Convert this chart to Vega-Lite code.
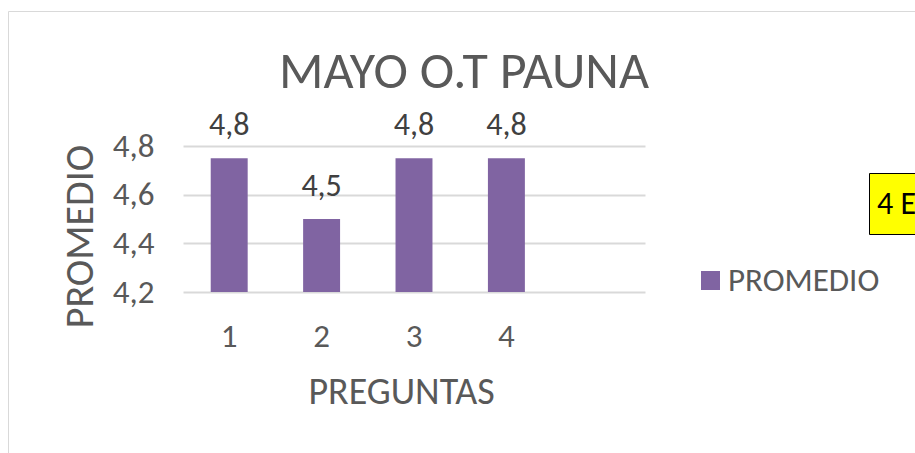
{
  "$schema": "https://vega.github.io/schema/vega-lite/v6.json",
  "width": 462,
  "height": 146,
  "autosize": {"type": "none"},
  "padding": {"left": 183, "top": 146, "right": 270, "bottom": 161},
  "background": "white",
  "title": {
    "text": "MAYO O.T PAUNA",
    "fontSize": 52,
    "font": "Carlito, 'Liberation Sans Narrow', 'DejaVu Sans Condensed', 'Open Sans', sans-serif",
    "fontWeight": "normal",
    "color": "#595959",
    "anchor": "middle",
    "frame": "group",
    "baseline": "alphabetic",
    "dx": 50,
    "offset": -129
  },
  "config": {
    "font": "Carlito, 'Liberation Sans Narrow', 'DejaVu Sans Condensed', 'Open Sans', sans-serif",
    "view": {"stroke": null},
    "locale": {"number": {"decimal": ",", "thousands": ".", "grouping": [3], "currency": ["", " €"]}}
  },
  "layer": [
    {
      "data": {"values": [
        {"PREGUNTA": "1", "PROMEDIO": 4.75},
        {"PREGUNTA": "2", "PROMEDIO": 4.5},
        {"PREGUNTA": "3", "PROMEDIO": 4.75},
        {"PREGUNTA": "4", "PROMEDIO": 4.75}
      ]},
      "layer": [
        {
          "mark": {"type": "bar"},
          "encoding": {
            "x": {
              "field": "PREGUNTA", "type": "nominal",
              "scale": {"domain": ["1", "2", "3", "4", ""], "paddingInner": 0.6, "paddingOuter": 0.3},
              "axis": {
                "title": "PREGUNTAS", "labelAngle": 0, "domain": false, "ticks": false, "grid": false,
                "labelFontSize": 33, "labelColor": "#595959", "labelBaseline": "alphabetic", "labelPadding": 54,
                "titleFontSize": 38, "titleFontWeight": "normal", "titleColor": "#595959",
                "titleX": 218, "titleY": 111, "titleAlign": "center", "titleBaseline": "alphabetic"
              }
            },
            "y": {
              "field": "PROMEDIO", "type": "quantitative",
              "scale": {"domain": [4.2, 4.8], "zero": false, "nice": false},
              "axis": {
                "title": "PROMEDIO", "values": [4.2, 4.4, 4.6, 4.8], "format": ".1f",
                "domain": false, "ticks": false, "grid": true, "gridColor": "#d9d9d9", "gridWidth": 2,
                "labelFontSize": 33, "labelColor": "#595959", "labelPadding": 29,
                "titleFontSize": 40, "titleFontWeight": "normal", "titleColor": "#595959",
                "titleAngle": -90, "titleX": -91, "titleY": 90, "titleAlign": "center", "titleBaseline": "alphabetic"
              }
            },
            "y2": {"datum": 4.2},
            "color": {
              "datum": "PROMEDIO",
              "scale": {"range": ["#8064a2"]},
              "legend": {
                "title": null, "orient": "none", "legendX": 511, "legendY": 118,
                "symbolType": "square", "symbolSize": 361, "symbolStrokeWidth": 0,
                "labelFontSize": 33, "labelColor": "#595959", "labelOffset": 1, "padding": 0
              }
            }
          }
        },
        {
          "mark": {"type": "text", "baseline": "alphabetic", "dy": -23, "fontSize": 32, "color": "#404040"},
          "encoding": {
            "x": {"field": "PREGUNTA", "type": "nominal"},
            "y": {"field": "PROMEDIO", "type": "quantitative"},
            "text": {"field": "PROMEDIO", "type": "quantitative", "format": ".1f"}
          }
        }
      ]
    },
    {
      "data": {"values": [{"nota": "4 E"}]},
      "mark": {"type": "point", "opacity": 0, "size": 2025},
      "encoding": {
        "shape": {
          "field": "nota", "type": "nominal",
          "legend": {
            "title": null, "orient": "none", "legendX": 686, "legendY": 27,
            "fillColor": "#ffff00", "strokeColor": "#000000", "padding": 8,
            "symbolSize": 2025, "symbolOpacity": 0, "symbolStrokeWidth": 0, "labelOffset": -45,
            "labelFontSize": 32, "labelColor": "#000000",
            "symbolType": "square",
            "labelLimit": 500,
            "encode": {"legend": {"update": {"strokeWidth": {"value": 2}}}}
          }
        }
      }
    },
    {
      "data": {"values": [{"marco": " "}]},
      "mark": {"type": "point", "opacity": 0},
      "encoding": {
        "strokeDash": {
          "field": "marco", "type": "nominal",
          "legend": {
            "title": null, "orient": "none", "legendX": -175, "legendY": -135,
            "strokeColor": "#d9d9d9", "padding": 700,
            "symbolOpacity": 0, "symbolStrokeWidth": 0, "labelOpacity": 0,
            "encode": {"legend": {"update": {"strokeWidth": {"value": 3}}}}
          }
        }
      }
    }
  ]
}
